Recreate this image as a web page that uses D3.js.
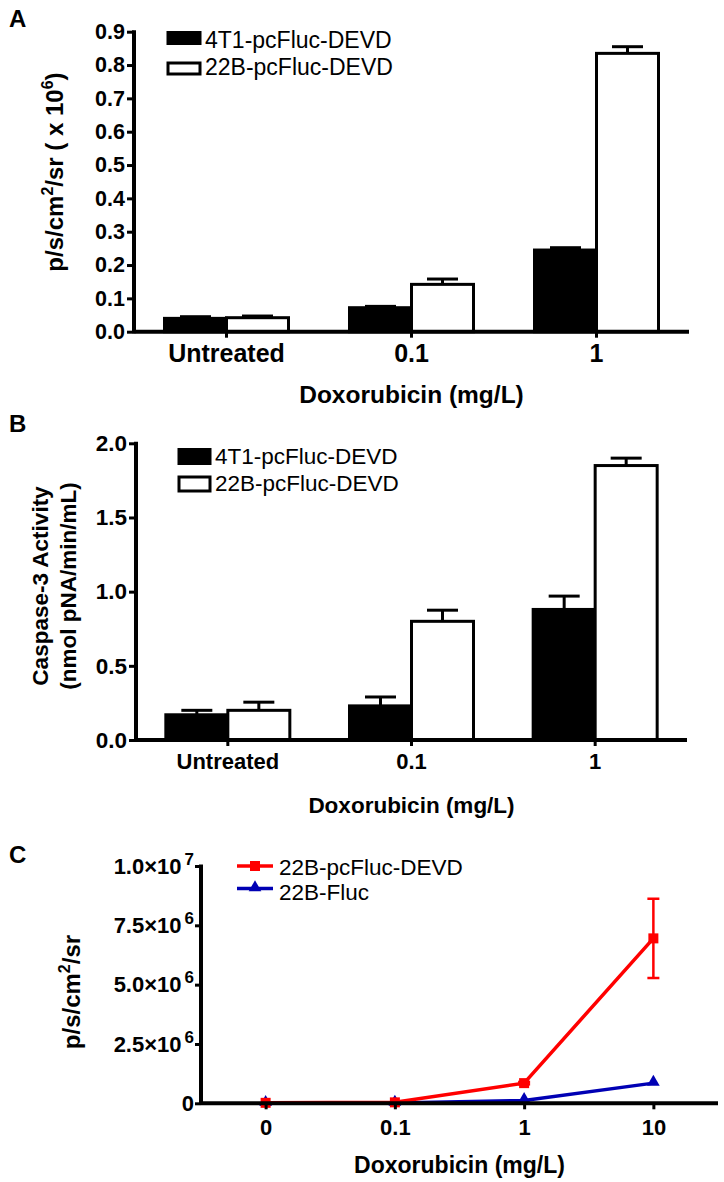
<!DOCTYPE html>
<html><head><meta charset="utf-8">
<script src="https://cdn.jsdelivr.net/npm/d3@7"></script>
<style>
body{margin:0;background:#fff;}
svg{display:block;font-family:"Liberation Sans",Arial,sans-serif;}
</style></head>
<body>
<svg id="chart" width="724" height="1182"></svg>
<script>
// ---------- DATA ----------
const catsAB = ["Untreated", "0.1", "1"];
const seriesAB = ["4T1-pcFluc-DEVD", "22B-pcFluc-DEVD"];
// Panel A (x 10^6)
const A_4T1 = [0.040, 0.072, 0.245];
const A_4T1_err = [0.005, 0.004, 0.007];
const A_22B = [0.042, 0.142, 0.835];
const A_22B_err = [0.005, 0.016, 0.020];
const A_ticks = [0, 0.1, 0.2, 0.3, 0.4, 0.5, 0.6, 0.7, 0.8, 0.9];
// Panel B (caspase-3)
const B_4T1 = [0.17, 0.23, 0.88];
const B_4T1_err = [0.03, 0.06, 0.09];
const B_22B = [0.20, 0.80, 1.85];
const B_22B_err = [0.055, 0.075, 0.05];
const B_ticks = [0, 0.5, 1.0, 1.5, 2.0];
// Panel C
const catsC = ["0", "0.1", "1", "10"];
const seriesC = ["22B-pcFluc-DEVD", "22B-Fluc"];
const C_red = [20000, 40000, 850000, 6950000];
const C_red_err = [0, 0, 50000, 1670000];
const C_blue = [0, 10000, 120000, 850000];
const C_ticks = [0, 2.5e6, 5.0e6, 7.5e6, 1.0e7];

const svg = d3.select("#chart");
const FONT = '"Liberation Sans",Arial,sans-serif';

function barPanel(cfg) {
  const g = svg.append("g");
  const x = d3.scaleBand().domain(catsAB).range([cfg.x0, cfg.x1]);
  const y = d3.scaleLinear().domain(cfg.ydom).range([cfg.y0, cfg.y1]);
  const bw = cfg.barW;
  const groups = [
    {vals: cfg.s1, err: cfg.e1, fill: "#000", off: -1},
    {vals: cfg.s2, err: cfg.e2, fill: "#fff", off: 0}
  ];
  groups.forEach(gr => {
    gr.vals.forEach((v, i) => {
      const cx = x(catsAB[i]) + x.bandwidth() / 2;
      const left = cx + gr.off * bw;
      const ec = left + bw / 2;
      const top = y(v), etop = y(v + gr.err[i]);
      g.append("line").attr("x1", ec).attr("x2", ec).attr("y1", top).attr("y2", etop)
        .attr("stroke", "#000").attr("stroke-width", 3);
      g.append("line").attr("x1", ec - bw / 4).attr("x2", ec + bw / 4).attr("y1", etop).attr("y2", etop)
        .attr("stroke", "#000").attr("stroke-width", 3);
      g.append("rect").attr("x", left).attr("y", top).attr("width", bw).attr("height", y(0) - top)
        .attr("fill", gr.fill).attr("stroke", "#000").attr("stroke-width", 3);
    });
  });
  // y axis
  const ya = d3.axisLeft(y).tickValues(cfg.ticks).tickSize(7).tickPadding(2)
    .tickFormat(d3.format(".1f"));
  const yg = g.append("g").attr("transform", `translate(${cfg.x0},0)`).call(ya);
  yg.select(".domain").remove();
  yg.selectAll("line").attr("stroke-width", 3);
  yg.selectAll("text").attr("font-family", FONT).attr("font-weight", "bold")
    .attr("font-size", cfg.tickFs).attr("fill", "#000");
  g.append("line").attr("x1", cfg.x0).attr("x2", cfg.x0).attr("y1", cfg.y0 + 1.5).attr("y2", cfg.y1 - 1.5)
    .attr("stroke", "#000").attr("stroke-width", 4);
  // x axis
  const xa = d3.axisBottom(x).tickSize(6).tickPadding(4);
  const xg = g.append("g").attr("transform", `translate(0,${cfg.y0})`).call(xa);
  xg.select(".domain").remove();
  xg.selectAll("line").attr("stroke-width", 3);
  xg.selectAll("text").attr("font-family", FONT).attr("font-weight", "bold")
    .attr("font-size", cfg.catFs).attr("fill", "#000").attr("dy", null)
    .attr("y", cfg.catBase - cfg.y0);
  g.append("line").attr("x1", cfg.x0).attr("x2", cfg.x1).attr("y1", cfg.y0).attr("y2", cfg.y0)
    .attr("stroke", "#000").attr("stroke-width", 4);
  // x title
  g.append("text").attr("x", (cfg.x0 + cfg.x1) / 2).attr("y", cfg.titleBase)
    .attr("text-anchor", "middle").attr("font-weight", "bold").attr("font-size", cfg.titleFs)
    .text("Doxorubicin (mg/L)");
  // legend
  seriesAB.forEach((s, i) => {
    const ly = cfg.leg.y[i];
    g.append("rect").attr("x", cfg.leg.x).attr("y", ly).attr("width", cfg.leg.w).attr("height", cfg.leg.h)
      .attr("fill", i === 0 ? "#000" : "#fff").attr("stroke", "#000").attr("stroke-width", 3);
    g.append("text").attr("x", cfg.leg.tx).attr("y", cfg.leg.base[i]).attr("font-size", cfg.leg.fs)
      .text(s);
  });
  // panel letter
  g.append("text").attr("x", 9).attr("y", cfg.letterBase).attr("font-weight", "bold")
    .attr("font-size", 24).text(cfg.letter);
  return g;
}

// Panel A
const gA = barPanel({
  letter: "A", letterBase: 27,
  x0: 134, x1: 689, y0: 331.7, y1: 31.7, ydom: [0, 0.9], barW: 62,
  s1: A_4T1, e1: A_4T1_err, s2: A_22B, e2: A_22B_err, ticks: A_ticks,
  tickFs: 21.5, catFs: 25, catBase: 362, titleBase: 403, titleFs: 24.5,
  leg: {x: 168, w: 32, h: 11, y: [32.5, 63], tx: 205, base: [48, 75], fs: 23}
});
gA.append("text").attr("transform", "translate(63,172) rotate(-90)").attr("text-anchor", "middle")
  .attr("font-weight", "bold").attr("font-size", 24)
  .call(t => {
    t.append("tspan").text("p/s/cm");
    t.append("tspan").attr("font-size", 16).attr("dy", -10).text("2");
    t.append("tspan").attr("dy", 10).text("/sr ( x 10");
    t.append("tspan").attr("font-size", 16).attr("dy", -10).text("6");
    t.append("tspan").attr("dy", 10).text(")");
  });

// Panel B
const gB = barPanel({
  letter: "B", letterBase: 432,
  x0: 136, x1: 687, y0: 740, y1: 443.3, ydom: [0, 2], barW: 62,
  s1: B_4T1, e1: B_4T1_err, s2: B_22B, e2: B_22B_err, ticks: B_ticks,
  tickFs: 22.5, catFs: 22, catBase: 769, titleBase: 813, titleFs: 22.5,
  leg: {x: 179, w: 31, h: 14, y: [449.5, 477], tx: 215, base: [464, 491], fs: 22.5}
});
gB.append("text").attr("transform", "translate(48,586) rotate(-90)").attr("text-anchor", "middle")
  .attr("font-weight", "bold").attr("font-size", 22.5).text("Caspase-3 Activity");
gB.append("text").attr("transform", "translate(76,586) rotate(-90)").attr("text-anchor", "middle")
  .attr("font-weight", "bold").attr("font-size", 22.5).text("(nmol pNA/min/mL)");

// Panel C
(function () {
  const g = svg.append("g");
  const x0 = 201, x1 = 718, y0 = 1103.3, y1 = 866;
  const x = d3.scalePoint().domain(catsC).range([x0, x1]).padding(0.5);
  const y = d3.scaleLinear().domain([0, 1e7]).range([y0, y1]);
  const line = d3.line().x((d, i) => x(catsC[i])).y(d => y(d));
  // blue
  g.append("path").datum(C_blue).attr("d", line).attr("fill", "none").attr("stroke", "#0000b4").attr("stroke-width", 3.5);
  const tri = d3.symbol().type(d3.symbolTriangle).size(70);
  C_blue.forEach((v, i) => g.append("path").attr("d", tri())
    .attr("transform", `translate(${x(catsC[i])},${y(v) - 1})`).attr("fill", "#0000b4"));
  // red
  C_red.forEach((v, i) => {
    if (C_red_err[i] > 0) {
      const cx = x(catsC[i]);
      const ya = y(v + C_red_err[i]), yb = y(v - C_red_err[i]);
      g.append("line").attr("x1", cx).attr("x2", cx).attr("y1", ya).attr("y2", yb).attr("stroke", "#ff0000").attr("stroke-width", 2.5);
      [ya, yb].forEach(yy => g.append("line").attr("x1", cx - 6).attr("x2", cx + 6).attr("y1", yy).attr("y2", yy)
        .attr("stroke", "#ff0000").attr("stroke-width", 2.5));
    }
  });
  g.append("path").datum(C_red).attr("d", line).attr("fill", "none").attr("stroke", "#ff0000").attr("stroke-width", 3.5);
  C_red.forEach((v, i) => g.append("rect").attr("x", x(catsC[i]) - 5).attr("y", y(v) - 5)
    .attr("width", 10).attr("height", 10).attr("fill", "#ff0000"));
  // y axis
  const ya = d3.axisLeft(y).tickValues(C_ticks).tickSize(6).tickPadding(1).tickFormat("");
  const yg = g.append("g").attr("transform", `translate(${x0},0)`).call(ya);
  yg.select(".domain").remove();
  yg.selectAll("line").attr("stroke-width", 3);
  yg.selectAll(".tick text").each(function (d) {
    const t = d3.select(this).attr("font-family", FONT).attr("font-weight", "bold")
      .attr("font-size", 22).attr("fill", "#000");
    if (d === 0) { t.text("0"); return; }
    const e = Math.floor(Math.log10(d));
    const m = d / Math.pow(10, e);
    t.append("tspan").text(m.toFixed(1) + "×10");
    t.append("tspan").attr("font-size", 17).attr("dx", 3).attr("dy", -9).text(String(e));
  });
  g.append("line").attr("x1", x0).attr("x2", x0).attr("y1", y0 + 1.5).attr("y2", y1 - 1.5)
    .attr("stroke", "#000").attr("stroke-width", 4);
  // x axis
  const xa = d3.axisBottom(x).tickSize(6).tickPadding(4);
  const xg = g.append("g").attr("transform", `translate(0,${y0})`).call(xa);
  xg.select(".domain").remove();
  xg.selectAll("line").attr("stroke-width", 3);
  xg.selectAll("text").attr("font-family", FONT).attr("font-weight", "bold")
    .attr("font-size", 22).attr("fill", "#000").attr("dy", null).attr("y", 1135 - y0);
  g.append("line").attr("x1", x0).attr("x2", x1).attr("y1", y0).attr("y2", y0)
    .attr("stroke", "#000").attr("stroke-width", 4);
  g.append("text").attr("x", (x0 + x1) / 2).attr("y", 1173).attr("text-anchor", "middle")
    .attr("font-weight", "bold").attr("font-size", 23).text("Doxorubicin (mg/L)");
  g.append("text").attr("transform", "translate(80,992) rotate(-90)").attr("text-anchor", "middle")
    .attr("font-weight", "bold").attr("font-size", 24)
    .call(t => {
      t.append("tspan").text("p/s/cm");
      t.append("tspan").attr("font-size", 16).attr("dy", -10).text("2");
      t.append("tspan").attr("dy", 10).text("/sr");
    });
  // legend
  const cols = ["#ff0000", "#0000b4"];
  const ly = [866, 888.5];
  const lfs = [22.5, 22.5];
  const lbase = [874.5, 899.5];
  seriesC.forEach((s, i) => {
    g.append("line").attr("x1", 237).attr("x2", 273).attr("y1", ly[i]).attr("y2", ly[i])
      .attr("stroke", cols[i]).attr("stroke-width", 3.5);
    if (i === 0) g.append("rect").attr("x", 250).attr("y", ly[i] - 5).attr("width", 10).attr("height", 10).attr("fill", cols[i]);
    else g.append("path").attr("d", tri()).attr("transform", `translate(255,${ly[i] - 1})`).attr("fill", cols[i]);
    g.append("text").attr("x", 279).attr("y", lbase[i]).attr("font-size", lfs[i]).text(s);
  });
  g.append("text").attr("x", 9).attr("y", 863).attr("font-weight", "bold").attr("font-size", 24).text("C");
})();
</script>
</body></html>
